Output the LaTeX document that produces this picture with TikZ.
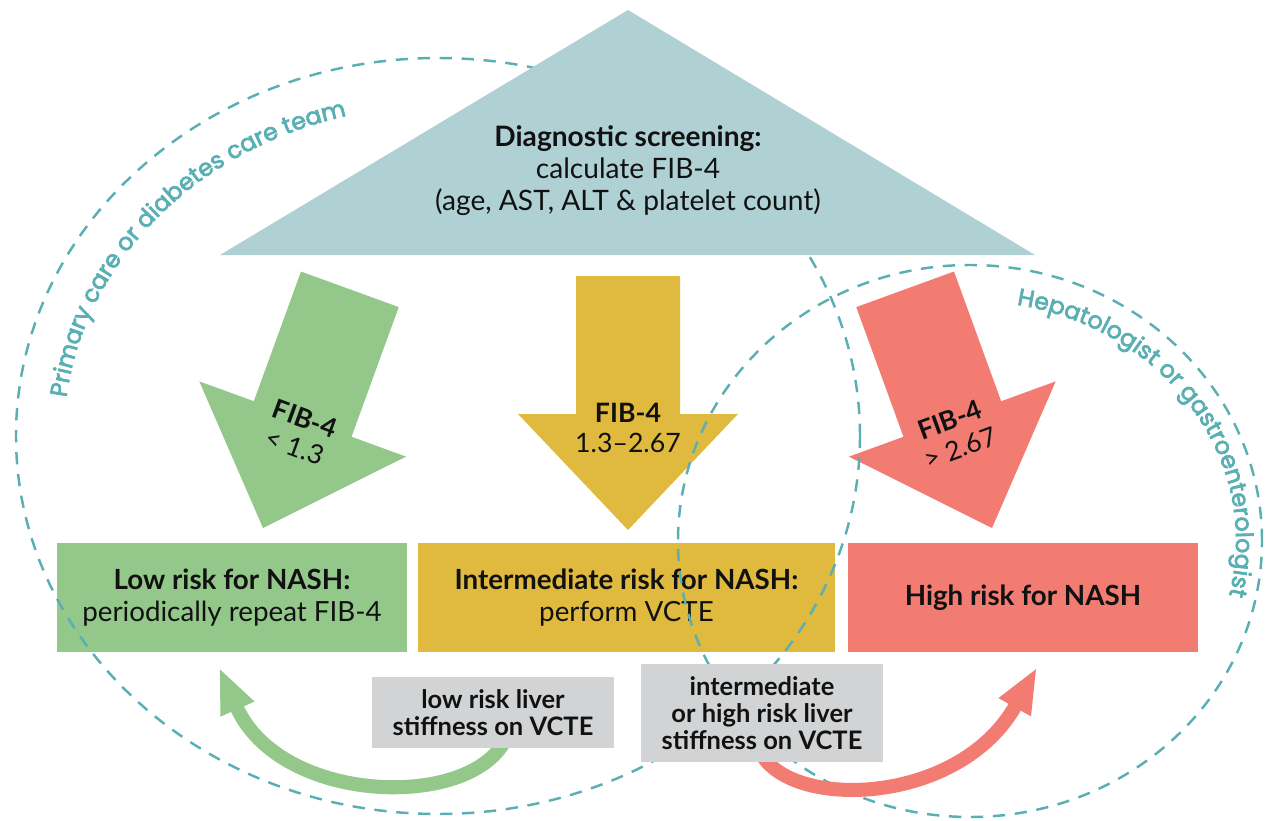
\documentclass[tikz,border=0pt]{standalone}
\usepackage{fontspec}
\setmainfont{Lato}
\newfontfamily\teamfont{Poppins}[FakeBold=3]
\usetikzlibrary{arrows.meta, positioning, calc, decorations.text}
\definecolor{Ink}{HTML}{111111}
\definecolor{Sky}{HTML}{AFD1D4}
\definecolor{Teal}{HTML}{5AAFB3}
\definecolor{Green}{HTML}{94C78A}
\definecolor{Amber}{HTML}{E0BA3E}
\definecolor{Coral}{HTML}{F27C72}
\definecolor{Mist}{HTML}{D1D3D4}

\begin{document}
\begin{tikzpicture}[
  x=0.02cm, y=0.02cm,
  font=\fontsize{15.8}{18.2}\selectfont, text=Ink,
  risk/.style={inner sep=0pt, minimum height=2.18cm, align=center},
  lowbox/.style={risk, fill=Green, minimum width=7cm},
  midbox/.style={risk, fill=Amber, minimum width=8.34cm},
  highbox/.style={risk, fill=Coral, minimum width=7cm},
  vcte/.style={fill=Mist, inner sep=0pt, minimum width=4.84cm, align=center, font=\bfseries\fontsize{14.5}{15.5}\selectfont},
  fib/.style={align=center, inner sep=0pt, font=\fontsize{15.2}{17}\selectfont},
  team/.style={draw=Teal, line width=1.4pt, dash pattern=on 7pt off 5.5pt},
  loop/.style={line width=8pt, -{Triangle[length=26pt, width=19pt]}}
]
\useasboundingbox (0,0) rectangle (1269,-821);

% block arrows
\fill[Green, shift={(263,-528)}, rotate=-20] (0,0) -- (-110,116) -- (-52,116) -- (-52,254) -- (52,254) -- (52,116) -- (110,116) -- cycle;
\fill[Amber, shift={(628,-530)}] (0,0) -- (-110,116) -- (-52,116) -- (-52,254) -- (52,254) -- (52,116) -- (110,116) -- cycle;
\fill[Coral, shift={(992,-528)}, rotate=20] (0,0) -- (-110,116) -- (-52,116) -- (-52,254) -- (52,254) -- (52,116) -- (110,116) -- cycle;

\node[fib, rotate=-20] (fiblow) at (300,-433) {\textbf{FIB-4}\\< 1.3};
\node[fib] (fibmid) at (628,-428) {\textbf{FIB-4}\\1.3–2.67};
\node[fib, rotate=20] (fibhigh) at (955,-434) {\textbf{FIB-4}\\> 2.67};

% risk boxes
\node[lowbox] (low) at (232,-597.5) {\textbf{Low risk for NASH:}\\periodically repeat FIB-4};
\node[midbox] (mid) at (626.5,-597.5) {\textbf{Intermediate risk for NASH:}\\perform VCTE};
\node[highbox] (high) at (1023,-597.5) {\textbf{High risk for NASH}};

% care teams
\draw[team] (438,-436) ellipse [x radius=422, y radius=378];
\draw[team] (970,-541) ellipse [x radius=292, y radius=276];

% screening
\fill[Sky] (220,-255) -- (628,-10) -- (1035,-255) -- cycle;
\node[align=center, font=\fontsize{16}{18.4}\selectfont] (screen) at (628,-170.5) {\textbf{Diagnostic screening:}\\calculate FIB-4\\(age, AST, ALT \& platelet count)};

% VCTE results
\draw[loop, Green] (505,-740) .. controls (470,-810) and (280,-805) .. ($(low.south)+(-13,-15)$);
\draw[loop, Coral] (762,-755) .. controls (795,-810) and (960,-805) .. ($(high.south)+(14,-15)$);
\node[vcte, minimum height=1.42cm] (lowliver) at (493,-712.5) {low risk liver\\stiffness on VCTE};
\node[vcte, minimum height=1.96cm] (highliver) at (762,-713) {intermediate\\or high risk liver\\stiffness on VCTE};

\path[decorate, decoration={text along path, text align=center, text format delimiters={|}{|},
  text={|\teamfont\fontsize{13.5}{15}\selectfont\color{Teal}|Primary care or diabetes care team}}]
  ($(438,-436)+(178:374 and 330)$) arc[start angle=178, end angle=100, x radius=374, y radius=330];
\path[decorate, decoration={text along path, text align=center, text format delimiters={|}{|},
  text={|\teamfont\fontsize{13.5}{15}\selectfont\color{Teal}|Hepatologist or gastroenterologist}}]
  ($(970,-541)+(88:266 and 240)$) arc[start angle=88, end angle=-22, x radius=266, y radius=240];
\end{tikzpicture}
\end{document}
